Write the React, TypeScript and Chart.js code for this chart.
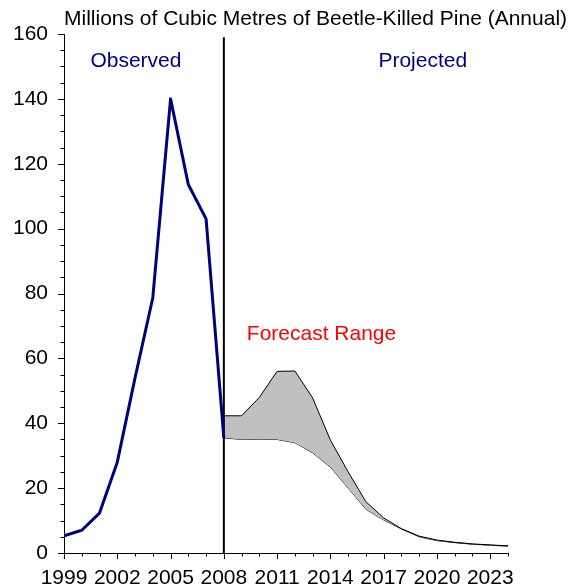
import React, { useEffect, useRef } from "react";
import { Chart, registerables } from "chart.js";

Chart.register(...registerables);

const TITLE = "Millions of Cubic Metres of Beetle-Killed Pine (Annual)";
const observedYears = [1999, 2000, 2001, 2002, 2003, 2004, 2005, 2006, 2007, 2008];
const observedValues = [5.3, 7, 12.3, 28, 54, 78.7, 140, 113.6, 103, 35.5];
const forecastYears = [2008, 2009, 2010, 2011, 2012, 2013, 2014, 2015, 2016, 2017, 2018, 2019, 2020, 2021, 2022, 2023, 2024];
const forecastUpper = [42.3, 42.3, 48, 56, 56.1, 47.8, 34.8, 25, 15.8, 10.8, 7.5, 5.2, 4, 3.3, 2.8, 2.5, 2.2];
const forecastLower = [35.5, 35, 35, 35, 34, 30.9, 26.5, 20, 13.5, 10.2, 7.4, 5, 3.8, 3.2, 2.7, 2.4, 2.1];
const dividerYear = 2008;
const dividerTop = 159;
const annotations = [
  { text: "Observed", x: 2003.05, y: 151.5, color: "#000080" },
  { text: "Projected", x: 2019.2, y: 151.5, color: "#000080" },
  { text: "Forecast Range", x: 2013.5, y: 67.3, color: "#ff0000" },
];

const FONT = "Liberation Sans, Arial, sans-serif";
const FS = 21;

const decorPlugin = {
  id: "decor",
  afterDraw(chart: any) {
    const ctx = chart.ctx;
    const xs = chart.scales.x;
    const ys = chart.scales.y;
    const area = chart.chartArea;
    ctx.save();
    ctx.strokeStyle = "#000";
    ctx.lineWidth = 1;
    for (let v = xs.min; v <= xs.max; v++) {
      const px = Math.round(xs.getPixelForValue(v)) + 0.5;
      const len = (v - 1999) % 3 === 0 ? 6 : 3.5;
      ctx.beginPath();
      ctx.moveTo(px, area.bottom);
      ctx.lineTo(px, area.bottom + len);
      ctx.stroke();
    }
    for (let v = 0; v <= 160; v += 5) {
      const py = Math.round(ys.getPixelForValue(v)) + 0.5;
      const len = v % 20 === 0 ? 6 : 3.5;
      ctx.beginPath();
      ctx.moveTo(area.left, py);
      ctx.lineTo(area.left - len, py);
      ctx.stroke();
    }
    ctx.font = `${FS}px ${FONT}`;
    ctx.textBaseline = "middle";
    ctx.textAlign = "left";
    ctx.fillStyle = "#000";
    ctx.fillText(TITLE, area.left, 19);
    ctx.textAlign = "center";
    for (const a of annotations) {
      ctx.fillStyle = a.color;
      ctx.fillText(a.text, xs.getPixelForValue(a.x), ys.getPixelForValue(a.y));
    }
    ctx.restore();
  },
};

export default function App() {
  const ref = useRef<HTMLCanvasElement>(null);
  useEffect(() => {
    if (!ref.current) return;
    const chart = new Chart(ref.current, {
      type: "line",
      data: {
        datasets: [
          {
            label: "Observed",
            data: observedYears.map((x, i) => ({ x, y: observedValues[i] })),
            borderColor: "#000080",
            borderWidth: 3,
            borderJoinStyle: "round",
            pointRadius: 0,
            fill: false,
            order: 1,
          },
          {
            label: "Divider",
            data: [
              { x: dividerYear, y: 0 },
              { x: dividerYear, y: dividerTop },
            ],
            borderColor: "#000",
            borderWidth: 2,
            pointRadius: 0,
            fill: false,
            order: 2,
          },
          {
            label: "Lower",
            data: forecastYears.map((x, i) => ({ x, y: forecastLower[i] })),
            borderColor: "#000",
            borderWidth: 1,
            pointRadius: 0,
            fill: false,
            order: 4,
          },
          {
            label: "Upper",
            data: forecastYears.map((x, i) => ({ x, y: forecastUpper[i] })),
            borderColor: "#000",
            borderWidth: 1,
            pointRadius: 0,
            backgroundColor: "#c0c0c0",
            fill: 2,
            order: 3,
          },
        ],
      },
      options: {
        responsive: false,
        animation: false,
        layout: { padding: { top: 34, right: 74, left: 0, bottom: 0 } },
        plugins: {
          legend: { display: false },
          tooltip: { enabled: false },
          title: { display: false },
        },
        scales: {
          x: {
            type: "linear",
            min: 1999,
            max: 2024,
            ticks: {
              stepSize: 1,
              autoSkip: false,
              maxRotation: 0,
              color: "#000",
              padding: 7,
              font: { family: FONT, size: FS },
              callback: (v: any) => ((v - 1999) % 3 === 0 ? String(v) : ""),
            },
            grid: { display: true, drawOnChartArea: false, drawTicks: true, tickLength: 6, color: "rgba(0,0,0,0)" },
            border: { display: true, color: "#000", width: 1 },
            afterFit: (s: any) => {
              s.height = 35;
            },
          },
          y: {
            min: 0,
            max: 160,
            ticks: {
              stepSize: 20,
              color: "#000",
              padding: 10,
              font: { family: FONT, size: FS },
              callback: (v: any) => String(v),
            },
            grid: { display: true, drawOnChartArea: false, drawTicks: true, tickLength: 6, color: "rgba(0,0,0,0)" },
            border: { display: true, color: "#000", width: 1 },
            afterFit: (s: any) => {
              s.width = 64;
            },
          },
        },
      },
      plugins: [decorPlugin],
    });
    return () => chart.destroy();
  }, []);
  return (
    <div style={{ position: "fixed", left: 0, top: 0, width: 582, height: 588, background: "#fff" }}>
      <canvas ref={ref} width={582} height={588} style={{ width: 582, height: 588 }} />
    </div>
  );
}
